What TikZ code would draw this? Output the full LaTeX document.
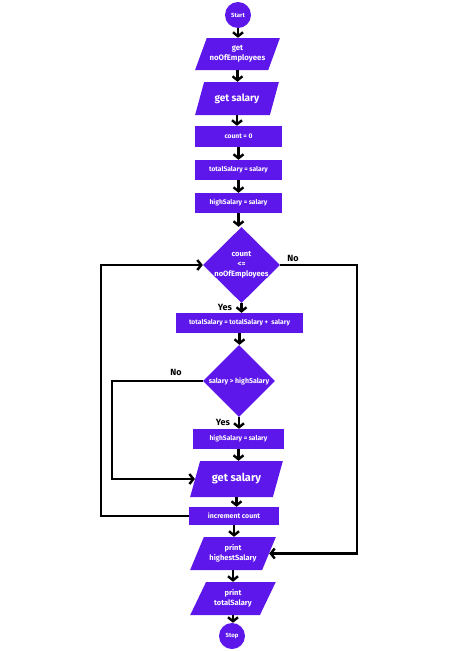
\documentclass[tikz,border=0pt]{standalone}
\usepackage{fontspec}
\setmainfont{Fira Sans}
\usetikzlibrary{shapes.geometric,arrows.meta}
\definecolor{fpurple}{HTML}{5E17EB}
\tikzset{
  base/.style={fill=fpurple,draw=none,text=white,font=\bfseries,inner sep=0pt,align=center},
  term/.style={base,circle,minimum size=26pt,font=\bfseries\fontsize{6}{7}\selectfont},
  io/.style={base,trapezium,trapezium left angle=58,trapezium right angle=122,trapezium stretches=true},
  proc/.style={base,rectangle,font=\bfseries\fontsize{6.7}{8}\selectfont},
  dec/.style={base,diamond,inner sep=-5pt,font=\bfseries\fontsize{7.6}{10}\selectfont},
  arr/.style={line width=2.4pt,-{Straight Barb[length=4pt,width=10pt]}},
  lbl/.style={font=\bfseries\fontsize{9}{10}\selectfont,text=black,inner sep=0pt}
}
\begin{document}
\begin{tikzpicture}[x=1pt,y=-1pt]
\useasboundingbox (0,0) rectangle (474,651);
\node[term] (start) at (238,15) {Start};
\node[io,minimum width=85pt,minimum height=32pt,font=\bfseries\fontsize{7.8}{10}\selectfont] (gn) at (237.5,54) {get\\noOfEmployees};
\node[io,minimum width=84pt,minimum height=33pt,font=\bfseries\fontsize{10}{12}\selectfont] (gs1) at (237,98.5) {get salary};
\node[proc,minimum width=87pt,minimum height=21pt] (c0) at (238.5,136.5) {count = 0};
\node[proc,minimum width=87pt,minimum height=20pt] (ts) at (238.5,170) {totalSalary = salary};
\node[proc,minimum width=87pt,minimum height=20pt] (hs) at (238.5,203) {highSalary = salary};
\node[dec,minimum width=77pt,minimum height=76pt] (d1) at (241.5,265) {count\\<=\\noOfEmployees};
\node[proc,minimum width=127pt,minimum height=20pt] (ts2) at (239.5,323) {totalSalary = totalSalary +\ \ salary};
\node[dec,minimum width=72pt,minimum height=72pt,font=\bfseries\fontsize{7}{9}\selectfont] (d2) at (239,381) {salary > highSalary};
\node[proc,minimum width=91pt,minimum height=20pt] (hs2) at (238.5,439) {highSalary = salary};
\node[io,minimum width=93pt,minimum height=36pt,font=\bfseries\fontsize{11}{12}\selectfont] (gs2) at (236.5,479) {get salary};
\node[proc,minimum width=90pt,minimum height=18pt,font=\bfseries\fontsize{7}{8}\selectfont] (inc) at (234,516) {increment count};
\node[io,minimum width=86pt,minimum height=33pt,font=\bfseries\fontsize{7.5}{10}\selectfont] (ph) at (233,553.5) {print\\highestSalary};
\node[io,minimum width=86pt,minimum height=33pt,font=\bfseries\fontsize{7.5}{10}\selectfont] (pt) at (233,598.5) {print\\totalSalary};
\node[term] (stop) at (232,636) {Stop};
\coordinate (L1) at (101,265);
\coordinate (R1) at (357,265);
\coordinate (L2) at (112,381);
\foreach \a/\b in {start/gn,gn/gs1,gs1/c0,c0/ts,ts/hs,hs/d1,d1/ts2,ts2/d2,d2/hs2,hs2/gs2,gs2/inc,inc/ph,ph/pt,pt/stop}
  \draw[arr] (\a.south) -- (\a.south |- \b.north);
\draw[arr] (inc.west) -| (L1) -- (d1.west);
\draw[arr] (d1.east) -- (R1) |- (ph.east);
\draw[arr] (d2.west) -- (L2) |- (gs2.west);
\node[lbl] (no1) at (293,258) {No};
\node[lbl] (yes1) at (225,307) {Yes};
\node[lbl] (no2) at (176,372) {No};
\node[lbl] (yes2) at (223,422) {Yes};
\end{tikzpicture}
\end{document}
